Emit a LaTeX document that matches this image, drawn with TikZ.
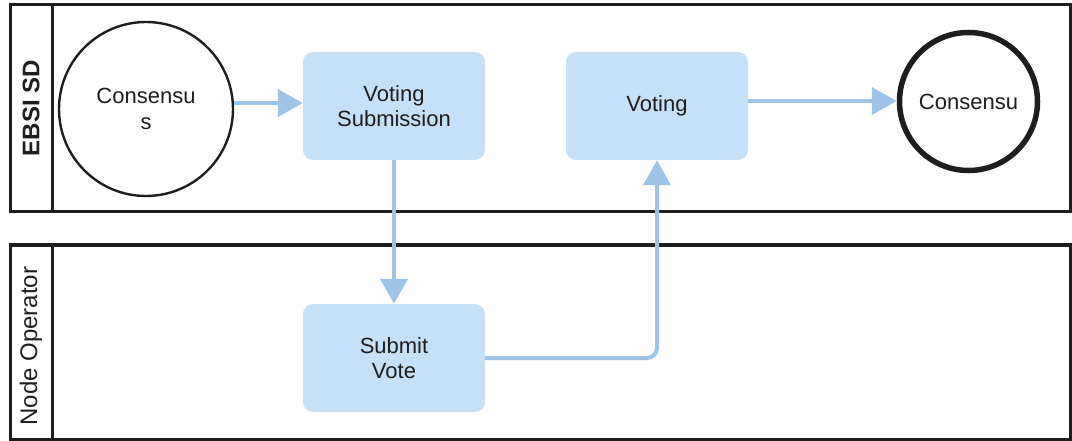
\documentclass[tikz,border=0pt]{standalone}
\usepackage{fontspec}
\setmainfont{Liberation Sans}
\usetikzlibrary{arrows.meta}
\definecolor{boxfill}{HTML}{C6E0F8}
\definecolor{flow}{HTML}{9DC3E6}
\definecolor{ink}{HTML}{1E1E1E}
\begin{document}
\begin{tikzpicture}[x=1pt,y=-1pt,
  lane/.style={draw=ink,line width=3pt},
  task/.style={rectangle,rounded corners=10pt,fill=boxfill,minimum width=182pt,minimum height=108pt,
    align=center,font=\fontsize{22}{25}\selectfont,text=ink,inner sep=0pt},
  event/.style={circle,draw=ink,fill=white,align=center,font=\fontsize{22}{26}\selectfont,text=ink,inner sep=0pt},
  flowline/.style={draw=flow,line width=4pt,-{Triangle[length=25pt,width=27pt]},rounded corners=10pt},
  lanelabel/.style={rotate=90,font=\fontsize{24}{28}\selectfont,text=ink}]
\useasboundingbox (0,0) rectangle (1072,441);
% swimlanes
\draw[lane] (10,5) rectangle (1070,212);
\draw[lane] (52,5) -- (52,212);
\draw[lane] (10,245) rectangle (1070,439);
\draw[lane] (52,245) -- (52,439);
\node[lanelabel,font=\fontsize{24}{28}\selectfont\bfseries] (l1) at (31,108) {EBSI SD};
\node[lanelabel] (l2) at (31,346) {Node Operator};
% nodes
\node[event,line width=2.4pt,minimum size=174pt] (start) at (146,109) {Consensu\\s};
\node[task] (vs) at (394,106) {Voting\\Submission};
\node[task] (vo) at (657,106) {Voting};
\node[task] (sv) at (394,358) {Submit\\Vote};
\node[event,line width=5.5pt,minimum size=138pt] (end) at (968.5,101.5) {Consensu};
% flows
\draw[flowline] (start.east |- 0,103) -- (vs.west |- 0,103);
\draw[flowline] (vo.east |- 0,101) -- (end.west |- 0,101);
\draw[flowline] (vs.south) -- (sv.north);
\draw[flowline] (sv.east) -- (vo.south |- sv.east) -- (vo.south);
\end{tikzpicture}
\end{document}
